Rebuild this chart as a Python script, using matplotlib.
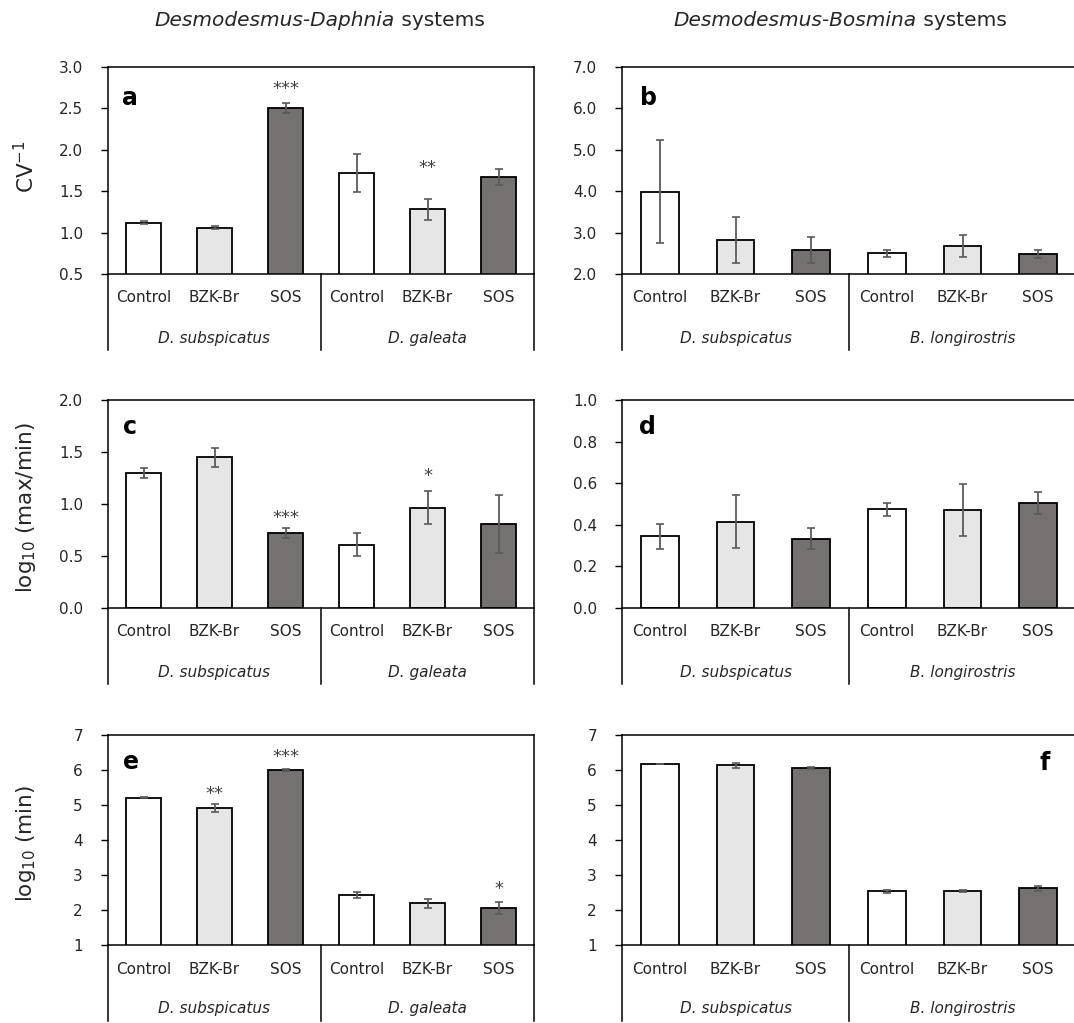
import matplotlib
matplotlib.use('Agg')
import matplotlib.pyplot as plt
import numpy as np

plt.rcParams['font.family'] = 'DejaVu Sans'
plt.rcParams['mathtext.fontset'] = 'dejavusans'

treatments = ['Control', 'BZK-Br', 'SOS']
groups_daphnia = ['D. subspicatus', 'D. galeata']
groups_bosmina = ['D. subspicatus', 'B. longirostris']

# CV^-1
cv_daphnia = [1.12, 1.06, 2.50, 1.72, 1.28, 1.67]
cv_daphnia_err = [0.02, 0.02, 0.06, 0.23, 0.13, 0.10]
cv_bosmina = [3.99, 2.82, 2.58, 2.50, 2.67, 2.48]
cv_bosmina_err = [1.25, 0.55, 0.32, 0.08, 0.26, 0.10]

# log10(max/min)
ratio_daphnia = [1.30, 1.45, 0.72, 0.61, 0.965, 0.805]
ratio_daphnia_err = [0.05, 0.09, 0.05, 0.11, 0.16, 0.28]
ratio_bosmina = [0.344, 0.414, 0.334, 0.474, 0.470, 0.507]
ratio_bosmina_err = [0.059, 0.127, 0.051, 0.03, 0.126, 0.053]

# log10(min)
min_daphnia = [5.21, 4.92, 5.99, 2.42, 2.19, 2.07]
min_daphnia_err = [0.01, 0.11, 0.03, 0.09, 0.13, 0.17]
min_bosmina = [6.17, 6.13, 6.06, 2.53, 2.55, 2.62]
min_bosmina_err = [0.01, 0.07, 0.03, 0.04, 0.03, 0.08]

# significance marks (bar index, label, y)
stars_a = [(2, '***', 2.79), (4, '**', 1.84)]
stars_c = [(2, '***', 0.91), (4, '*', 1.32)]
stars_e = [(1, '**', 5.46), (2, '***', 6.51), (5, '*', 2.74)]

bar_colors = ['white', '#e7e6e6', '#767171'] * 2
txt = '#262626'

fig = plt.figure(figsize=(10.74, 10.23), dpi=100)
W, H = 1074, 1023


def make_ax(l, r, top, bot):
    return fig.add_axes([l / W, 1 - bot / H, (r - l) / W, (bot - top) / H])


def panel(ax, vals, errs, ylim, ticks, fmt, groups, letter, lpos, stars=()):
    x = np.arange(6)
    ax.bar(x, vals, width=0.5, color=bar_colors, edgecolor='black', linewidth=1.3, zorder=2)
    ax.errorbar(x, vals, yerr=errs, fmt='none', ecolor='#5a5a5a', elinewidth=1.3,
                capsize=3, capthick=1.2, zorder=3)
    ax.set_xlim(-0.5, 5.5)
    ax.set_ylim(*ylim)
    ax.set_yticks(ticks)
    ax.set_yticklabels([fmt % t for t in ticks], fontsize=11, color=txt)
    ax.set_xticks([])
    ax.tick_params(axis='y', length=5, width=1, direction='out', pad=13)
    for s in ax.spines.values():
        s.set_linewidth(1.1)
        s.set_color('black')
    # two-level category axis
    h = ax.get_position().height * H
    tr = ax.get_xaxis_transform()
    for i, t in enumerate(treatments * 2):
        ax.text(i, -24 / h, t, transform=tr, ha='center', va='center', fontsize=11, color=txt)
    for j, g in enumerate(groups):
        ax.text(1 + 3 * j, -64 / h, g, transform=tr, ha='center', va='center',
                fontsize=11, style='italic', color=txt)
    for xv in [-0.5, 2.5, 5.5]:
        ax.plot([xv, xv], [0, -76 / h], transform=tr, color='black', lw=1.1, clip_on=False)
    ax.text(lpos[0], lpos[1], letter, transform=ax.transAxes, fontsize=17,
            fontweight='bold', ha='center', va='center', color='black')
    for i, lab, y in stars:
        ax.annotate(lab, xy=(i, y), xytext=(0, -10), textcoords='offset pixels',
                    ha='center', va='baseline', fontsize=13, color='#404040')


ax_a = make_ax(108, 534, 67, 274)
ax_b = make_ax(622, 1076, 67, 274)
ax_c = make_ax(108, 534, 400, 608)
ax_d = make_ax(622, 1076, 400, 608)
ax_e = make_ax(108, 534, 735, 945)
ax_f = make_ax(622, 1076, 735, 945)

panel(ax_a, cv_daphnia, cv_daphnia_err, (0.5, 3.0), np.arange(0.5, 3.01, 0.5), '%.1f',
      groups_daphnia, 'a', (0.052, 0.85), stars_a)
panel(ax_b, cv_bosmina, cv_bosmina_err, (2.0, 7.0), np.arange(2, 7.01, 1.0), '%.1f',
      groups_bosmina, 'b', (0.059, 0.85))
panel(ax_c, ratio_daphnia, ratio_daphnia_err, (0.0, 2.0), np.arange(0, 2.01, 0.5), '%.1f',
      groups_daphnia, 'c', (0.052, 0.87), stars_c)
panel(ax_d, ratio_bosmina, ratio_bosmina_err, (0.0, 1.0), np.arange(0, 1.01, 0.2), '%.1f',
      groups_bosmina, 'd', (0.055, 0.87))
panel(ax_e, min_daphnia, min_daphnia_err, (1, 7), np.arange(1, 8), '%d',
      groups_daphnia, 'e', (0.054, 0.87), stars_e)
panel(ax_f, min_bosmina, min_bosmina_err, (1, 7), np.arange(1, 8), '%d',
      groups_bosmina, 'f', (0.932, 0.867))

# y labels
fig.text(26 / W, 1 - 167 / H, r'$\mathregular{CV^{-1}}$', rotation=90, ha='center',
         va='center', fontsize=15.5, color=txt)
fig.text(26 / W, 1 - 507 / H, r'log$_{10}$ (max/min)', rotation=90, ha='center',
         va='center', fontsize=15.5, color=txt)
fig.text(26 / W, 1 - 843 / H, r'log$_{10}$ (min)', rotation=90, ha='center',
         va='center', fontsize=15.5, color=txt)

# column titles, italic genus names + regular "systems"
renderer = fig.canvas.get_renderer()


def mixed_title(xc, yc, italic, regular):
    t1 = fig.text(0, 1 - yc / H, italic, style='italic', fontsize=14.5, va='center', color=txt)
    t2 = fig.text(0, 1 - yc / H, regular, fontsize=14.5, va='center', color=txt)
    w1 = t1.get_window_extent(renderer).width
    w2 = t2.get_window_extent(renderer).width
    x0 = xc - (w1 + w2) / 2
    t1.set_x(x0 / W)
    t2.set_x((x0 + w1) / W)


mixed_title(320, 20, 'Desmodesmus-Daphnia', ' systems')
mixed_title(840, 20, 'Desmodesmus-Bosmina', ' systems')

fig.savefig('out.png', dpi=100)
